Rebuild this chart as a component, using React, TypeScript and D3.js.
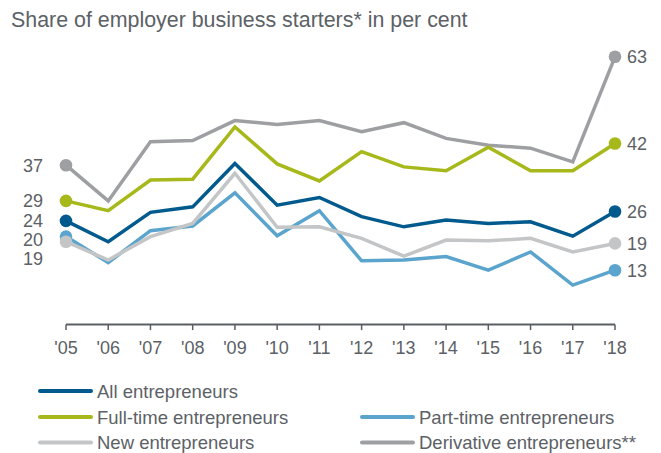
import React from "react";
import * as d3 from "d3";

const years = ["'05", "'06", "'07", "'08", "'09", "'10", "'11", "'12", "'13", "'14", "'15", "'16", "'17", "'18"];

const allEntrepreneurs = [24.4, 19.5, 26.4, 27.7, 37.9, 28.1, 29.9, 25.4, 23.0, 24.6, 23.8, 24.2, 20.8, 26.6];
const fullTime = [29.1, 26.8, 34.0, 34.2, 46.5, 37.8, 33.8, 40.7, 37.1, 36.2, 41.7, 36.2, 36.2, 42.6];
const partTime = [20.7, 14.6, 22.1, 23.2, 31.0, 20.9, 26.8, 15.0, 15.2, 16.0, 12.8, 17.1, 9.3, 12.8];
const newEntrepreneurs = [19.5, 15.2, 20.7, 23.8, 35.6, 22.9, 23.0, 20.3, 16.1, 19.9, 19.7, 20.3, 17.1, 19.1];
const derivative = [37.5, 29.1, 43.0, 43.3, 48.0, 47.1, 48.0, 45.4, 47.5, 43.8, 42.2, 41.5, 38.3, 63.0];

const seriesNames = ["All entrepreneurs", "Full-time entrepreneurs", "Part-time entrepreneurs", "New entrepreneurs", "Derivative entrepreneurs**"];
const startLabels = ["24", "29", "20", "19", "37"];
const endLabels = ["26", "42", "13", "19", "63"];

const title = "Share of employer business starters* in per cent";

const colors = ["#005a8d", "#a7b81b", "#5aa4cd", "#c4c5c7", "#9d9fa2"];
const textColor = "#5c6166";
const font = "'Liberation Sans', Arial, Helvetica, sans-serif";

const W = 661;
const H = 453;

export default function App() {
  const seriesData = [allEntrepreneurs, fullTime, partTime, newEntrepreneurs, derivative];
  const series = seriesNames.map((name, i) => ({
    name,
    values: seriesData[i],
    color: colors[i],
    start: startLabels[i],
    end: endLabels[i],
  }));

  const x = d3.scalePoint<string>().domain(years).range([66, 615]);
  const maxV = d3.max(seriesData.flat()) as number;
  const y = d3.scaleLinear().domain([0, maxV]).range([324.6, 56.8]);

  const line = d3
    .line<number>()
    .x((_, i) => x(years[i]) as number)
    .y((d) => y(d));

  const drawOrder = [4, 1, 2, 3, 0];

  // label collision avoidance
  const placeLabels = (idx: number, minGap: number) => {
    const items = series.map((s, i) => ({ i, y: y(s.values[idx]) }));
    items.sort((a, b) => a.y - b.y);
    for (let k = 1; k < items.length; k++) {
      if (items[k].y - items[k - 1].y < minGap) items[k].y = items[k - 1].y + minGap;
    }
    const out: number[] = [];
    items.forEach((it) => (out[it.i] = it.y));
    return out;
  };
  const leftY = placeLabels(0, 19);
  const rightY = placeLabels(years.length - 1, 19);

  const axisY = y(0);
  const legendRows = [
    { s: 0, x: 38, y: 391 },
    { s: 1, x: 38, y: 417 },
    { s: 2, x: 360, y: 417 },
    { s: 3, x: 38, y: 442.5 },
    { s: 4, x: 360, y: 442.5 },
  ];

  return (
    <svg
      width={W}
      height={H}
      style={{ position: "absolute", left: 0, top: 0, background: "#fff" }}
      fontFamily={font}
    >
      <text x={11} y={27} fontSize={21.4} fill={textColor}>
        {title}
      </text>

      {/* axis */}
      <line x1={x(years[0])} x2={x(years[years.length - 1])} y1={axisY} y2={axisY} stroke="#5a5f64" strokeWidth={2} />
      {years.map((yr) => (
        <g key={yr}>
          <line x1={x(yr)} x2={x(yr)} y1={axisY} y2={axisY + 5.5} stroke="#5a5f64" strokeWidth={1.5} />
          <text x={x(yr)} y={354} fontSize={18} textAnchor="middle" fill={textColor}>
            {yr}
          </text>
        </g>
      ))}

      {/* lines */}
      {drawOrder.map((i) => {
        const s = series[i];
        const n = s.values.length;
        return (
          <g key={s.name}>
            <path d={line(s.values) as string} fill="none" stroke={s.color} strokeWidth={3.5} strokeLinejoin="miter" />
            <circle cx={x(years[0])} cy={y(s.values[0])} r={6.3} fill={s.color} />
            <circle cx={x(years[n - 1])} cy={y(s.values[n - 1])} r={6.3} fill={s.color} />
          </g>
        );
      })}

      {/* end labels */}
      {series.map((s, i) => (
        <g key={"lab" + i}>
          <text x={43} y={leftY[i]} dy="0.36em" fontSize={18} textAnchor="end" fill={textColor}>
            {s.start}
          </text>
          <text x={627} y={rightY[i]} dy="0.36em" fontSize={18} textAnchor="start" fill={textColor}>
            {s.end}
          </text>
        </g>
      ))}

      {/* legend */}
      {legendRows.map((r) => (
        <g key={"leg" + r.s}>
          <line x1={r.x + 2} x2={r.x + 53} y1={r.y} y2={r.y} stroke={colors[r.s]} strokeWidth={4} strokeLinecap="round" />
          <text x={r.x + 59} y={r.y} dy="0.36em" fontSize={18.5} fill={textColor}>
            {seriesNames[r.s]}
          </text>
        </g>
      ))}
    </svg>
  );
}
